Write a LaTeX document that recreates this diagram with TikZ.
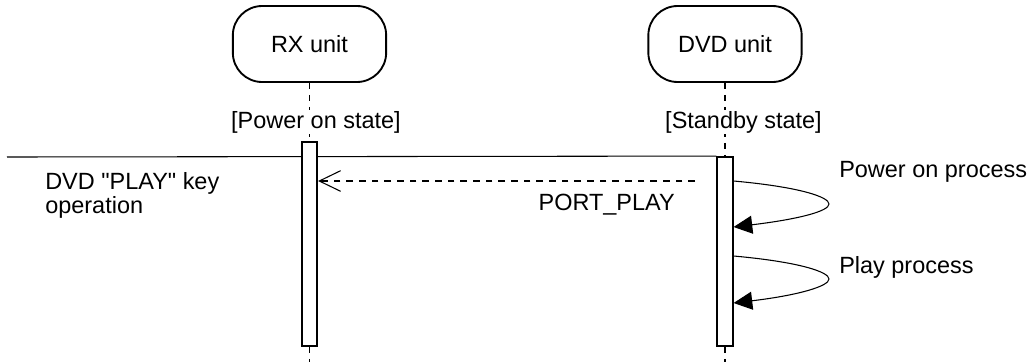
\documentclass[tikz,border=0pt]{standalone}
\usepackage{fontspec}
\setmainfont{Liberation Sans}[Ligatures=TeXOff]
\usetikzlibrary{arrows.meta,backgrounds}
\begin{document}
\begin{tikzpicture}[x=0.75pt,y=-0.75pt,
  every node/.style={font=\fontsize{17.6}{17.3}\selectfont, inner sep=0pt},
  unitbox/.style={draw, line width=1.4pt, rounded corners=22pt, minimum width=115pt, minimum height=57pt},
  actbar/.style={draw, fill=white, line width=1.4pt, minimum width=11.5pt},
  lifeline/.style={dash pattern=on 4.5pt off 4.5pt, line width=0.8pt},
  statelabel/.style={fill=white, inner sep=1pt, anchor=base},
  plainline/.style={line width=0.8pt},
  reply/.style={line width=0.8pt, dash pattern=on 5pt off 4.5pt, -{Straight Barb[length=16pt,width=15.5pt,line width=0.8pt]}},
  selfcall/.style={line width=0.8pt, -{Triangle[length=14pt,width=13.5pt]}},
  txt/.style={anchor=base west}
]
\useasboundingbox (0,0) rectangle (1032,362);

% participants
\node[unitbox] (rx) at (309.5,44) {RX unit};
\node[unitbox] (dvd) at (725,44) {DVD unit};

% activation bars
\node[actbar, minimum height=153pt] (rxbar) at (309.5,244) {};
\node[actbar, minimum height=141.75pt] (dvdbar) at (725,251.5) {};

% lifeline ends
\coordinate (rxend) at (309.5,362);
\coordinate (dvdend) at (725,362);

\begin{pgfonlayer}{background}
  \draw[lifeline] (rx.south) -- (rxbar.north);
  \draw[lifeline] (dvd.south) -- (dvdbar.north);
  \draw[lifeline] (rxbar.south) -- (rxend);
  \draw[lifeline] (dvdbar.south) -- (dvdend);
  \coordinate (hstart) at (7,157);
  \draw[plainline] (hstart) -- (dvdbar.north west);
\end{pgfonlayer}

% state labels
\node[statelabel] (rxstate) at (316,128) {[Power on state]};
\node[statelabel] (dvdstate) at (743.5,128) {[Standby state]};

% key operation text (base anchor = last line)
\node[txt, align=left] (keyop) at (45,213) {DVD "PLAY" key\\operation};

% PORT_PLAY message
\coordinate (pstart) at (695,181);
\draw[reply] (pstart) -- (rxbar.east |- pstart);
\node[anchor=base east] (portplay) at (675,210) {PORT\_PLAY};

% self calls
\coordinate (y1) at (0,181);
\coordinate (y2) at (0,227);
\coordinate (y3) at (0,256);
\coordinate (y4) at (0,303);
\coordinate (s1) at (dvdbar.east |- y1);
\coordinate (e1) at (dvdbar.east |- y2);
\coordinate (s2) at (dvdbar.east |- y3);
\coordinate (e2) at (dvdbar.east |- y4);
\draw[selfcall] (s1) .. controls (800,187) and (829,197) .. (829,204)
                     .. controls (829,211) and (800,219) .. (e1);
\draw[selfcall] (s2) .. controls (800,262) and (829,272) .. (829,279)
                     .. controls (829,286) and (800,295) .. (e2);
\node[txt] (pwrproc) at (839,177) {Power on process};
\node[txt] (playproc) at (839,273) {Play process};
\end{tikzpicture}
\end{document}
